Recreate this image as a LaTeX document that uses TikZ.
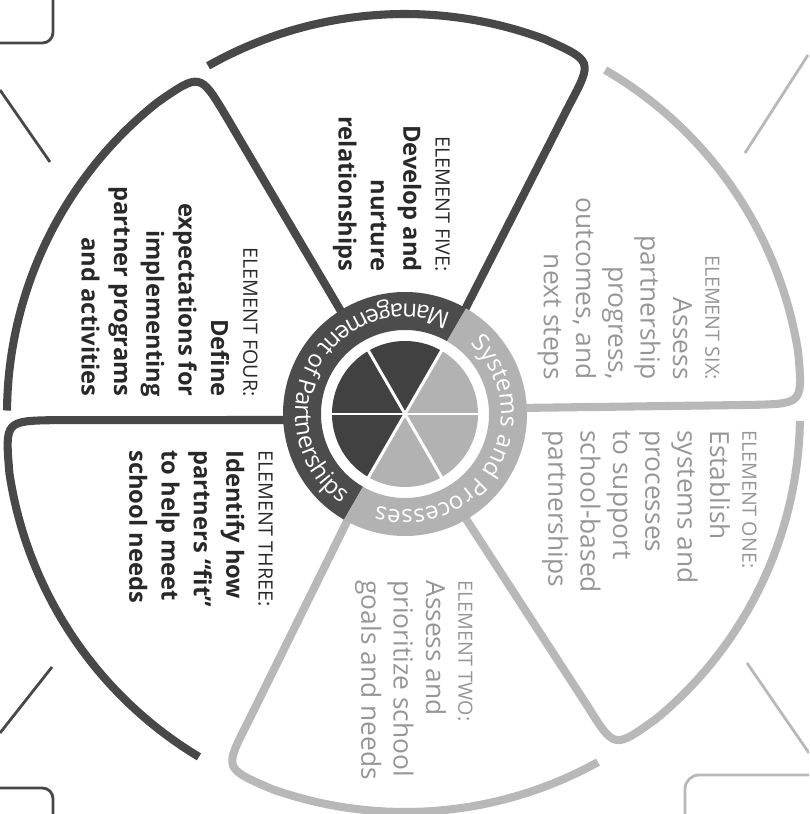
\documentclass[tikz,border=0pt]{standalone}
\usepackage{fontspec}
\setmainfont{Open Sans}
\usetikzlibrary{decorations.text}
\definecolor{petaldark}{RGB}{72,72,72}
\definecolor{petalgray}{RGB}{184,184,184}
\definecolor{ringdark}{RGB}{76,76,76}
\definecolor{ringgray}{RGB}{178,178,178}
\definecolor{textdark}{RGB}{40,40,40}
\definecolor{textgray}{RGB}{150,150,150}
\newcommand{\headsize}{\fontsize{11.2}{18.4}\selectfont\mdseries}
\newcommand{\ringfont}{\fontsize{13.6}{13.6}\selectfont}

\begin{document}
\begin{tikzpicture}[x=0.02cm,y=0.02cm,
  darkbody/.style={rotate=-90,inner sep=0pt,text=textdark,font=\fontsize{13.5}{18.4}\selectfont\bfseries},
  graybody/.style={rotate=-90,inner sep=0pt,text=textgray,font=\fontsize{15}{18.4}\selectfont},
  frameline/.style={line width=1.6pt}]
  \useasboundingbox (-405,-400) rectangle (404,414);
  \clip (-405,-400) rectangle (404,414);

  % petals: side from the ring, round corner, outer arc
  \foreach \ta/\tb/\te/\rr/\col in {60/62/119.5/400/petaldark, 122/121/179.5/398/petaldark,
      183/181/239/400/petaldark, 241.5/243/299/398/petalgray,
      300/302/359/395/petalgray, 3/1.5/59.8/398/petalgray}
    \draw[\col,line width=4.6pt] (\ta:115) -- (\tb:{\rr-50}) .. controls (\tb:\rr) .. ({\tb+7.5}:\rr)
      arc[start angle={\tb+7.5},end angle=\te,radius=\rr];

  % ring
  \fill[ringdark] (60:122) arc[start angle=60,end angle=240,radius=122] -- (240:84)
    arc[start angle=240,end angle=60,radius=84] -- cycle;
  \fill[ringgray] (240:122) arc[start angle=240,end angle=420,radius=122] -- (60:84)
    arc[start angle=60,end angle=-120,radius=84] -- cycle;

  % pie
  \fill[ringdark!85!black] (0,0) -- (60:73) arc[start angle=60,end angle=240,radius=73] -- cycle;
  \fill[ringgray] (0,0) -- (240:73) arc[start angle=240,end angle=420,radius=73] -- cycle;
  \foreach \a in {0,60,...,300}
    \draw[white,line width=1.7pt] (0,0) -- (\a:74);

  \path[decorate,decoration={text along path,text align=center,
    text={|\ringfont\color{white}|Management of Partnerships}}]
    (60:110) arc[start angle=60,end angle=240,radius=110];
  \path[decorate,decoration={text along path,text align=center,
    text={|\ringfont\color{white}|Systems and Processes}}]
    (60:96) arc[start angle=60,end angle=-120,radius=96];

  % element texts
  \node[darkbody,align=right,anchor=north east] (five) at (45,142)
    {{\headsize ELEMENT FIVE:}\\Develop and\\nurture\\relationships};
  \node[darkbody,align=right,anchor=north east] (four) at (-147,17)
    {{\headsize ELEMENT FOUR:}\\Define\\expectations for\\implementing\\partner programs\\and activities};
  \node[darkbody,align=left,anchor=north west] (three) at (-132,-36)
    {{\headsize ELEMENT THREE:}\\Identify how\\partners “fit”\\to help meet\\school needs};
  \node[graybody,align=left,anchor=north west] (two) at (68,-166)
    {{\headsize ELEMENT TWO:}\\Assess and\\prioritize school\\goals and needs};
  \node[graybody,align=left,anchor=north west] (one) at (352,-16)
    {{\headsize ELEMENT ONE:}\\Establish\\systems and\\processes\\to support\\school-based\\partnerships};
  \node[graybody,align=right,anchor=north east] (six) at (315,34)
    {{\headsize ELEMENT SIX:}\\Assess\\partnership\\progress,\\outcomes, and\\next steps};

  % frame pieces at the corners
  \draw[petaldark,frameline,rounded corners=6pt] (-352,420) -- (-352,371) -- (-410,371);
  \draw[petaldark,frameline] (-405,324) -- (-355,252);
  \draw[petalgray,frameline] (403,359) -- (340,261);
  \draw[petalgray,frameline] (342,-249) -- (404,-339);
  \draw[petalgray,frameline,rounded corners=8pt] (410,-361) -- (280,-361) -- (280,-410);
  \draw[petaldark,frameline] (-353,-253) -- (-405,-319);
  \draw[petaldark,frameline,rounded corners=6pt] (-410,-374) -- (-352,-374) -- (-352,-410);
\end{tikzpicture}
\end{document}
